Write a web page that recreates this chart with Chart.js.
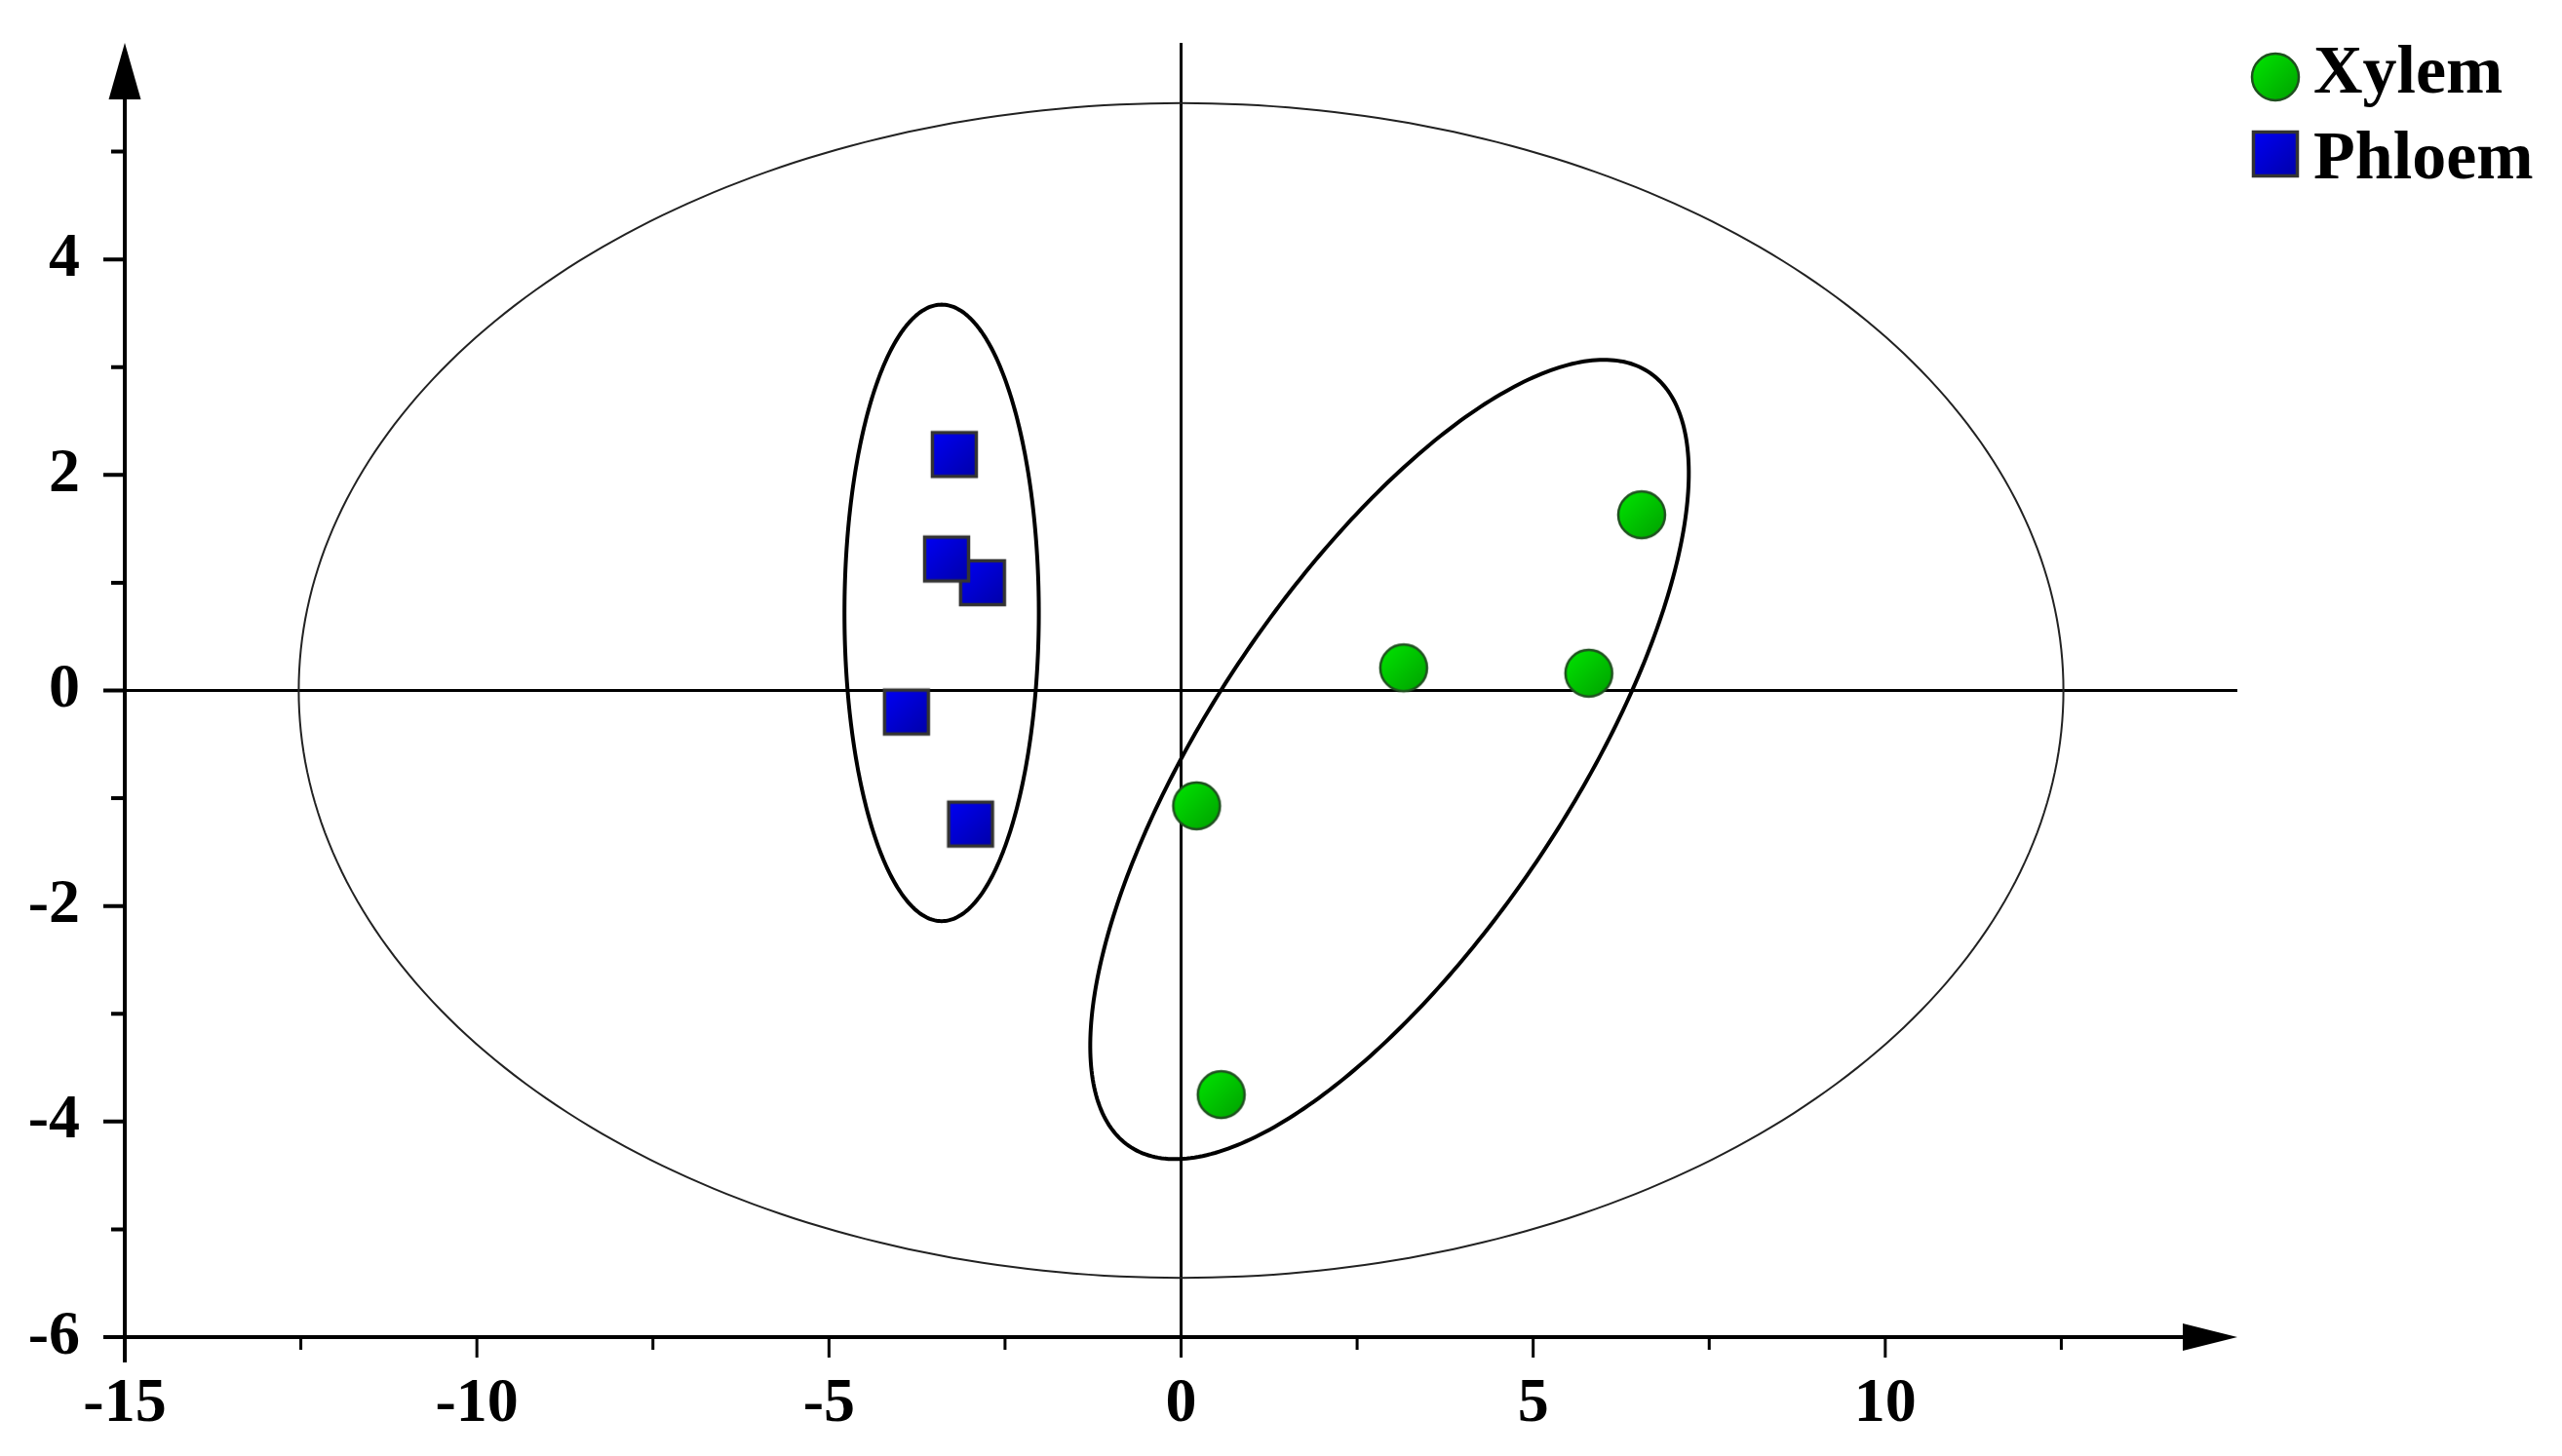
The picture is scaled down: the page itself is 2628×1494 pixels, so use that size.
<!DOCTYPE html>
<html>
<head>
<meta charset="utf-8">
<script src="https://cdn.jsdelivr.net/npm/chart.js@4.4.1/dist/chart.umd.min.js"></script>
<style>
  html, body { margin: 0; padding: 0; background: #fff; }
  #wrap { width: 2628px; height: 1494px; position: relative; }
</style>
</head>
<body>
<div id="wrap"><canvas id="chart-scores"></canvas></div>
<script>
// score values
const xylemX = [6.54, 3.16, 5.79, 0.22, 0.57];
const xylemY = [1.63, 0.21, 0.16, -1.07, -3.75];
const phloemX = [-3.22, -2.82, -3.33, -3.90, -2.99];
const phloemY = [2.19, 1.00, 1.22, -0.20, -1.24];

// ellipses: big one (Hotelling), phloem group, xylem group
const ellipseCx = [0, -3.40, 2.96];
const ellipseCy = [0, 0.72, -0.64];
const ellipseA = [12.53, 1.38, 5.235];
const ellipseB = [5.45, 2.86, 2.10];
const ellipseAngle = [0, 0, 39.6];

// ticks
const xMajor = [-15, -10, -5, 0, 5, 10];
const xMinor = [-12.5, -7.5, -2.5, 2.5, 7.5, 12.5];
const yMajor = [-6, -4, -2, 0, 2, 4];
const yMinor = [-5, -3, -1, 1, 3, 5];
const xRange = [-15, 15];
const yRange = [-6, 6];

const seriesNames = ["Xylem", "Phloem"];

// marker images (gradient filled), used as pointStyle
function makeCircle() {
  const c = document.createElement("canvas");
  c.width = 54; c.height = 54;
  const ctx = c.getContext("2d");
  const g = ctx.createLinearGradient(3, 3, 51, 51);
  g.addColorStop(0, "#00e600");
  g.addColorStop(1, "#00a000");
  ctx.beginPath();
  ctx.arc(27, 27, 24, 0, Math.PI * 2);
  ctx.fillStyle = g;
  ctx.fill();
  ctx.lineWidth = 2.5;
  ctx.strokeStyle = "#1f4f1f";
  ctx.stroke();
  return c;
}
function makeSquare() {
  const c = document.createElement("canvas");
  c.width = 52; c.height = 52;
  const ctx = c.getContext("2d");
  const g = ctx.createLinearGradient(3, 3, 49, 49);
  g.addColorStop(0, "#0000f5");
  g.addColorStop(1, "#0000a8");
  ctx.fillStyle = g;
  ctx.fillRect(3.5, 3.5, 45, 45);
  ctx.lineWidth = 3.5;
  ctx.strokeStyle = "#333";
  ctx.strokeRect(3.5, 3.5, 45, 45);
  return c;
}
const markerImgs = [makeCircle(), makeSquare()];

const scoresPlugin = {
  id: "scoresPlugin",
  beforeDatasetsDraw(chart) {
    const ctx = chart.ctx;
    const xs = chart.scales.x, ys = chart.scales.y;
    const X = v => xs.getPixelForValue(v);
    const Y = v => ys.getPixelForValue(v);
    ctx.save();
    ctx.lineCap = "butt";

    // zero lines
    ctx.strokeStyle = "#000";
    ctx.lineWidth = 3;
    ctx.beginPath();
    ctx.moveTo(X(0), Y(yRange[1]) - 1);
    ctx.lineTo(X(0), Y(yRange[0]));
    ctx.moveTo(X(xRange[0]), Y(0));
    ctx.lineTo(X(xRange[1]), Y(0));
    ctx.stroke();

    // ellipses
    ellipseCx.forEach(function (cx, i) {
      const th = ellipseAngle[i] * Math.PI / 180;
      ctx.beginPath();
      for (let k = 0; k <= 360; k++) {
        const t = k * Math.PI / 180;
        const dx = ellipseA[i] * Math.cos(t) * Math.cos(th) - ellipseB[i] * Math.sin(t) * Math.sin(th);
        const dy = ellipseA[i] * Math.cos(t) * Math.sin(th) + ellipseB[i] * Math.sin(t) * Math.cos(th);
        const px = X(cx + dx), py = Y(ellipseCy[i] + dy);
        if (k === 0) ctx.moveTo(px, py); else ctx.lineTo(px, py);
      }
      ctx.closePath();
      ctx.lineWidth = i === 0 ? 2 : 4;
      ctx.strokeStyle = i === 0 ? "#222" : "#000";
      ctx.stroke();
    });

    // axes
    const left = X(xRange[0]), bottom = Y(yRange[0]);
    const top = Y(yRange[1]), right = X(xRange[1]);
    ctx.lineWidth = 4;
    ctx.beginPath();
    ctx.moveTo(left, bottom + 26);
    ctx.lineTo(left, top + 50);
    ctx.moveTo(left - 22, bottom);
    ctx.lineTo(right - 50, bottom);
    ctx.stroke();
    ctx.fillStyle = "#000";
    ctx.beginPath();
    ctx.moveTo(left, top - 1);
    ctx.lineTo(left - 16.5, top + 57);
    ctx.lineTo(left + 16.5, top + 57);
    ctx.closePath();
    ctx.fill();
    ctx.beginPath();
    ctx.moveTo(right, bottom);
    ctx.lineTo(right - 56, bottom - 14);
    ctx.lineTo(right - 56, bottom + 14);
    ctx.closePath();
    ctx.fill();

    // tick marks
    ctx.lineWidth = 3;
    ctx.beginPath();
    xMajor.forEach(v => { if (v !== xRange[0]) { ctx.moveTo(X(v), bottom); ctx.lineTo(X(v), bottom + 21); } });
    xMinor.forEach(v => { ctx.moveTo(X(v), bottom); ctx.lineTo(X(v), bottom + 13); });
    ctx.stroke();
    ctx.lineWidth = 4;
    ctx.beginPath();
    yMajor.forEach(v => { if (v !== yRange[0]) { ctx.moveTo(left, Y(v)); ctx.lineTo(left - 22, Y(v)); } });
    yMinor.forEach(v => { ctx.moveTo(left, Y(v)); ctx.lineTo(left - 14, Y(v)); });
    ctx.stroke();
    ctx.restore();
  },
  afterDraw(chart) {
    // legend, top right
    const ctx = chart.ctx;
    const r = chart.chartArea.right;
    const rows = [79, 158];
    ctx.save();
    ctx.font = "bold 70px 'Liberation Serif'";
    ctx.fillStyle = "#000";
    ctx.textBaseline = "alphabetic";
    chart.data.datasets.forEach(function (ds, i) {
      const img = markerImgs[i];
      ctx.drawImage(img, r + 39 - img.width / 2, rows[i] - img.height / 2);
      ctx.fillText(ds.label, r + 78, rows[i] + (i === 0 ? 16 : 25));
    });
    ctx.restore();
  }
};

const xylemPts = xylemX.map((v, i) => ({ x: v, y: xylemY[i] }));
const phloemPts = phloemX.map((v, i) => ({ x: v, y: phloemY[i] }));

const tickFont = { family: "'Liberation Serif'", size: 64, weight: "bold" };

new Chart(document.getElementById("chart-scores"), {
  type: "scatter",
  data: {
    datasets: [
      {
        label: seriesNames[0],
        data: xylemPts,
        pointStyle: markerImgs[0],
        pointRadius: 26,
        backgroundColor: "#00c800",
        borderColor: "#1f4f1f",
      },
      {
        label: seriesNames[1],
        data: phloemPts,
        pointStyle: markerImgs[1],
        pointRadius: 26,
        backgroundColor: "#0000d0",
        borderColor: "#333",
      },
    ],
  },
  options: {
    responsive: true,
    maintainAspectRatio: false,
    animation: false,
    events: [],
    layout: { padding: { left: 0, top: 45, right: 333, bottom: 0 } },
    plugins: { legend: { display: false }, tooltip: { enabled: false } },
    scales: {
      x: {
        type: "linear",
        min: xRange[0],
        max: xRange[1],
        afterBuildTicks: s => { s.ticks = xMajor.map(v => ({ value: v })); },
        afterFit: s => { s.height = 122; s.paddingLeft = 0; s.paddingRight = 0; },
        grid: { display: false, drawTicks: false },
        border: { display: false },
        ticks: { font: tickFont, color: "#000", padding: 31, autoSkip: false, maxRotation: 0 },
      },
      y: {
        type: "linear",
        min: yRange[0],
        max: yRange[1],
        afterBuildTicks: s => { s.ticks = yMajor.map(v => ({ value: v })); },
        afterFit: s => { s.width = 128; s.paddingTop = 0; s.paddingBottom = 0; },
        grid: { display: false, drawTicks: false },
        border: { display: false },
        ticks: { font: tickFont, color: "#000", padding: 46, autoSkip: false },
      },
    },
  },
  plugins: [scoresPlugin],
});
</script>
</body>
</html>
